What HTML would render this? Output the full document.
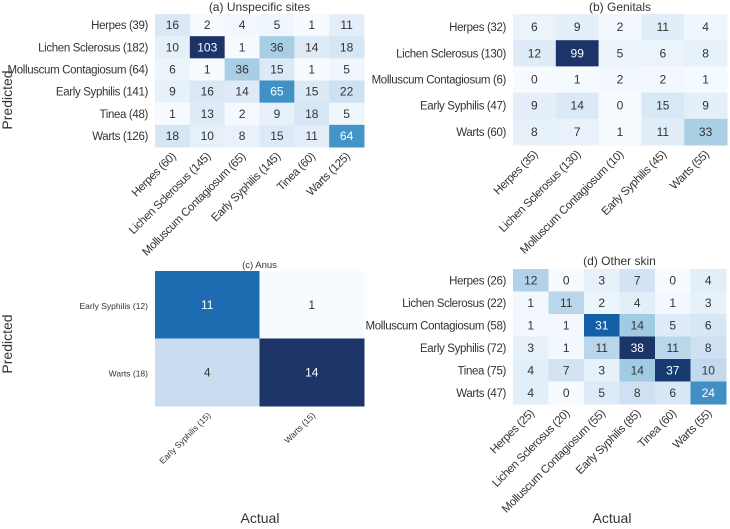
<!DOCTYPE html>
<html><head><meta charset="utf-8"><style>
html,body{margin:0;padding:0;background:#fff;}
svg{display:block;font-family:"Liberation Sans",Arial,sans-serif;}
</style></head><body>
<svg id="fig" width="730" height="529" viewBox="0 0 730 529">
<text x="12" y="100" transform="rotate(-90 12 100)" text-anchor="middle" font-size="14" fill="#333">Predicted</text>
<text x="12" y="344" transform="rotate(-90 12 344)" text-anchor="middle" font-size="14" fill="#333">Predicted</text>
<text x="260" y="523" text-anchor="middle" font-size="14" fill="#333">Actual</text>
<text x="612" y="523" text-anchor="middle" font-size="14" fill="#333">Actual</text>
</svg>
<script>
const aRows = ["Herpes (39)","Lichen Sclerosus (182)","Molluscum Contagiosum (64)","Early Syphilis (141)","Tinea (48)","Warts (126)"];
const aCols = ["Herpes (60)","Lichen Sclerosus (145)","Molluscum Contagiosum (65)","Early Syphilis (145)","Tinea (60)","Warts (125)"];
const aVals = [[16,2,4,5,1,11],[10,103,1,36,14,18],[6,1,36,15,1,5],[9,16,14,65,15,22],[1,13,2,9,18,5],[18,10,8,15,11,64]];
const bRows = ["Herpes (32)","Lichen Sclerosus (130)","Molluscum Contagiosum (6)","Early Syphilis (47)","Warts (60)"];
const bCols = ["Herpes (35)","Lichen Sclerosus (130)","Molluscum Contagiosum (10)","Early Syphilis (45)","Warts (55)"];
const bVals = [[6,9,2,11,4],[12,99,5,6,8],[0,1,2,2,1],[9,14,0,15,9],[8,7,1,11,33]];
const cRows = ["Early Syphilis (12)","Warts (18)"];
const cCols = ["Early Syphilis (15)","Warts (15)"];
const cVals = [[11,1],[4,14]];
const dRows = ["Herpes (26)","Lichen Sclerosus (22)","Molluscum Contagiosum (58)","Early Syphilis (72)","Tinea (75)","Warts (47)"];
const dCols = ["Herpes (25)","Lichen Sclerosus (20)","Molluscum Contagiosum (55)","Early Syphilis (85)","Tinea (60)","Warts (55)"];
const dVals = [[12,0,3,7,0,4],[1,11,2,4,1,3],[1,1,31,14,5,6],[3,1,11,38,11,8],[4,7,3,14,37,10],[4,0,5,8,6,24]];

const NS="http://www.w3.org/2000/svg";
const svg=document.getElementById('fig');
const stops=["#f7fbff","#deebf7","#c6dbef","#9ecae1","#6baed6","#4292c6","#2171b5","#08519c","#1c3468"];
function hex(h){return [1,3,5].map(i=>parseInt(h.substr(i,2),16));}
function blues(t){t=Math.max(0,Math.min(1,t));const p=t*8,i=Math.min(7,Math.floor(p)),f=p-i;const a=hex(stops[i]),b=hex(stops[i+1]);return "rgb("+a.map((v,k)=>Math.round(v+(b[k]-v)*f)).join(",")+")";}
function el(tag,attrs,parent){const e=document.createElementNS(NS,tag);for(const k in attrs)e.setAttribute(k,attrs[k]);(parent||svg).appendChild(e);return e;}
function panel(key,title,rows,cols,vals,L,T,R,B,tickFs,ls,titleFs,titleY){
  const g=el('g',{});
  
  
  const flat=vals.flat();const vmin=Math.min(...flat),vmax=Math.max(...flat);
  const cw=(R-L)/cols.length,rh=(B-T)/rows.length;
  const xs=j=>L+j*cw, ys=i=>T+i*rh;
  const t=el('text',{x:(L+R)/2,y:titleY,'text-anchor':'middle','font-size':titleFs,fill:'#333'},g);
  t.textContent=title;
  
  
  vals.forEach((row,i)=>row.forEach((v,j)=>{
    const tt=(v-vmin)/(vmax-vmin);
    const r=el('rect',{x:xs(j),y:ys(i),width:cw+0.5,height:rh+0.5,fill:blues(tt)},g);
    
    
    const tx=el('text',{x:xs(j)+cw/2,y:ys(i)+rh/2+4,'text-anchor':'middle','font-size':12,fill:tt>0.55?'#fff':'#333'},g);
    tx.textContent=v;
    
    
  }));
  rows.forEach((lab,i)=>{
    const tx=el('text',{x:L-7,y:ys(i)+rh/2+4,'text-anchor':'end','font-size':tickFs,'letter-spacing':ls,fill:'#333'},g);
    tx.textContent=lab;
    
    
  });
  cols.forEach((lab,j)=>{
    const x=xs(j)+cw/2+4,y=B+10;
    const tx=el('text',{x:x,y:y,'text-anchor':'end','font-size':tickFs,'letter-spacing':ls,fill:'#333',transform:'rotate(-45 '+x+' '+y+')'},g);
    tx.textContent=lab;
    
    
  });
}
panel('a','(a) Unspecific sites',aRows,aCols,aVals,155,14,364,147,11.5,-0.35,12,11);
panel('b','(b) Genitals',bRows,bCols,bVals,513,14,727,145,11.5,-0.35,12,11);
panel('c','(c) Anus',cRows,cCols,cVals,155,271,364,406,8.5,0,9.5,268);
panel('d','(d) Other skin',dRows,dCols,dVals,513,269,726,404,11.5,-0.35,12,265);
</script>
</body></html>
